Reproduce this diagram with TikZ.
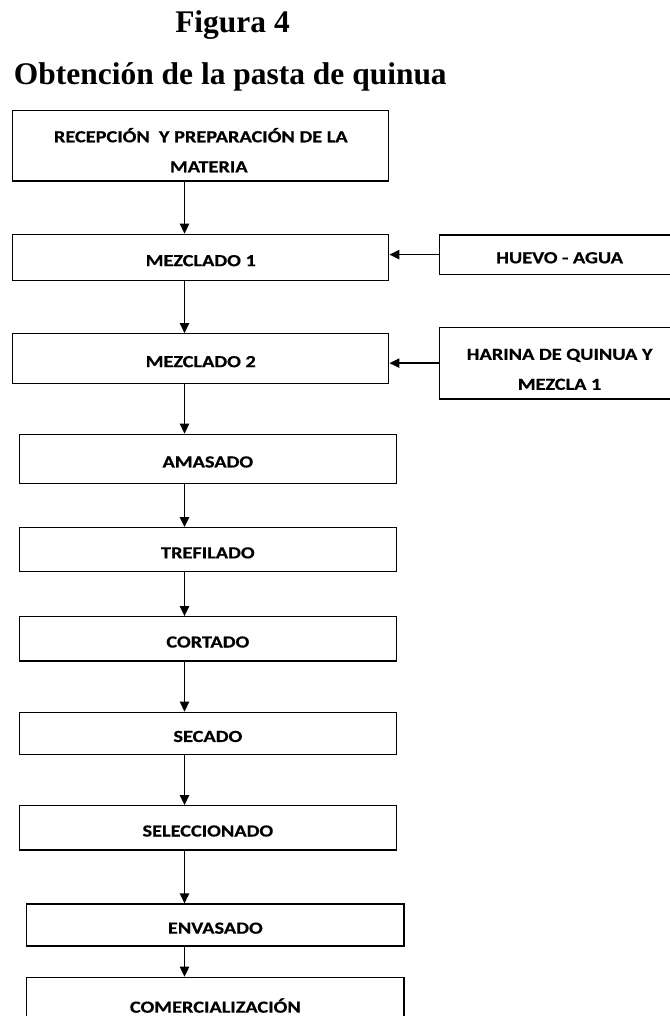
\documentclass[tikz,border=0pt]{standalone}
\usepackage{fontspec}
\setmainfont{Liberation Serif}
\newfontfamily\boxfont{Carlito}[FakeStretch=1.2, FakeBold=0.6]
\usetikzlibrary{arrows.meta}

\tikzset{
  stage/.style={draw, line width=0.95pt, rectangle, inner sep=0pt,
    font=\boxfont\bfseries\fontsize{12.7}{22.5}\selectfont, align=center},
  oneline/.style={stage, text height=13pt, text depth=0pt},
  twoline/.style={stage, text height=40pt, text depth=0pt},
  flow/.style={line width=1.1pt, -{Triangle[length=7.5pt, width=7pt]}},
  heading/.style={anchor=base west, inner sep=0pt,
    font=\bfseries\fontsize{23.6}{28}\selectfont}
}

\begin{document}
\begin{tikzpicture}[x=0.75pt, y=-0.75pt]
  \useasboundingbox (0,0) rectangle (670,1016);
  \clip (0,0) rectangle (670,1016);

  % headings
  \node[heading] (fig) at (175,33) {Figura 4};
  \node[heading] (ttl) at (13.7,85) {Obtención de la pasta de quinua};

  % main process column
  \node[twoline, minimum width=282pt, minimum height=53pt] (b1) at (200.8,145.6)
    {\begin{tabular}[b]{@{}c@{}}RECEPCIÓN\ \ Y PREPARACIÓN DE LA\\\hspace*{12pt}MATERIA\end{tabular}};
  \node[oneline, minimum width=282pt, minimum height=34.8pt] (b2) at (200.8,257.5) {MEZCLADO 1};
  \node[oneline, minimum width=282pt, minimum height=37.1pt] (b3) at (200.8,358.5) {MEZCLADO 2};
  \node[oneline, minimum width=283pt, minimum height=36.75pt] (b4) at (207.85,458.8) {AMASADO};
  \node[oneline, minimum width=283pt, minimum height=33pt] (b5) at (207.85,549.7) {TREFILADO};
  \node[oneline, minimum width=283pt, minimum height=33.2pt] (b6) at (207.85,638.85) {CORTADO};
  \node[oneline, minimum width=283pt, minimum height=31.5pt] (b7) at (207.85,733.3) {SECADO};
  \node[oneline, minimum width=283pt, minimum height=33.2pt] (b8) at (207.85,827.85) {SELECCIONADO};
  \node[oneline, minimum width=283pt, minimum height=31.5pt] (b9) at (215.35,925) {ENVASADO};
  \node[oneline, minimum width=283pt, minimum height=40pt] (b10) at (215.35,1004) {COMERCIALIZACIÓN};

  % side inputs
  \node[oneline, minimum width=180.5pt, minimum height=29.3pt] (h1) at (559.6,254.6) {HUEVO - AGUA};
  \node[twoline, minimum width=180.5pt, minimum height=53.8pt] (h2) at (559.6,363.15)
    {\begin{tabular}[b]{@{}c@{}}HARINA DE QUINUA Y\\MEZCLA 1\end{tabular}};

  % connectors
  \coordinate (ax) at (184.5,0);
  \draw[flow] (b1.south -| ax) -- (b2.north -| ax);
  \draw[flow] (b2.south -| ax) -- (b3.north -| ax);
  \draw[flow] (b3.south -| ax) -- (b4.north -| ax);
  \draw[flow] (b4.south -| ax) -- (b5.north -| ax);
  \draw[flow] (b5.south -| ax) -- (b6.north -| ax);
  \draw[flow] (b6.south -| ax) -- (b7.north -| ax);
  \draw[flow] (b7.south -| ax) -- (b8.north -| ax);
  \draw[flow] (b8.south -| ax) -- (b9.north -| ax);
  \draw[flow] (b9.south -| ax) -- (b10.north -| ax);
  \draw[flow] (h1.west) -- (h1.west -| b2.east);
  \draw[flow] (h2.west) -- (h2.west -| b3.east);
\end{tikzpicture}
\end{document}
